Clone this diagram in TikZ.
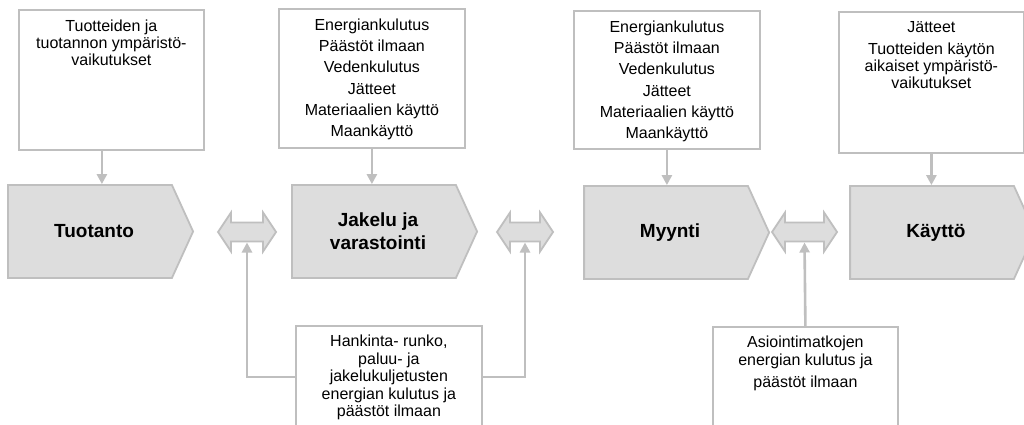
\documentclass[tikz,border=0pt]{standalone}
\usepackage{fontspec}
\setmainfont{Liberation Sans}
\usetikzlibrary{positioning,arrows.meta,shapes.symbols}
\definecolor{rim}{HTML}{BFBFBF}
\definecolor{stagegray}{HTML}{DDDDDD}
\begin{document}
\begin{tikzpicture}[x=1pt,y=-1pt,
  infobox/.style={draw=rim,line width=1.8pt,fill=white,anchor=north west,inner sep=0pt},
  infotext/.style={inner sep=0pt,align=center,font=\fontsize{16}{17}\selectfont},
  listtext/.style={inner sep=0pt,align=center,font=\fontsize{16}{21.3}\selectfont},
  stage/.style={signal,signal to=east,signal pointer angle=131,draw=rim,line width=1.8pt,fill=stagegray,minimum width=185pt,minimum height=93pt,inner sep=0pt,align=center,font=\fontsize{19}{22.7}\selectfont\bfseries},
  link/.style={draw=rim,line width=2.6pt,-{Triangle[length=10pt,width=10pt]}},
  swap/.style={draw=rim,line width=1.8pt,fill=stagegray,line join=miter}]
\useasboundingbox (0,0) rectangle (1024,425);
\clip (0,0) rectangle (1024,425);
\fill[white] (0,0) rectangle (1024,425);
\node[infobox,minimum width=185pt,minimum height=140pt] (b1) at (18,9) {};
\node[infotext,below=11pt of b1.north] (t1) {Tuotteiden ja\\tuotannon ympäristö-\\vaikutukset};
\node[infobox,minimum width=186pt,minimum height=139pt] (b2) at (278,8) {};
\node[listtext,below=10.5pt of b2.north] (t2) {Energiankulutus\\Päästöt ilmaan\\Vedenkulutus\\Jätteet\\Materiaalien käyttö\\Maankäyttö};
\node[infobox,minimum width=186pt,minimum height=138pt] (b3) at (573,10) {};
\node[listtext,below=10.5pt of b3.north] (t3) {Energiankulutus\\Päästöt ilmaan\\Vedenkulutus\\Jätteet\\Materiaalien käyttö\\Maankäyttö};
\node[infobox,minimum width=185pt,minimum height=141pt] (b4) at (838,11) {};
\node[infotext,below=10pt of b4.north] (t4) {Jätteet\\[5pt]Tuotteiden käytön\\aikaiset ympäristö-\\vaikutukset};
\node[stage] (tuo) at (90,231.5) {\hspace*{8pt}Tuotanto};
\node[stage] (jak) at (374,231.5) {\hspace*{8pt}Jakelu ja\\\hspace*{8pt}varastointi};
\node[stage] (myy) at (666,232.5) {\hspace*{8pt}Myynti};
\node[stage] (kay) at (932,232.5) {\hspace*{8pt}Käyttö};
\foreach \cx/\len/\nm in {247/58/da1,525/56/da2,804.5/65/da3} {
  \draw[swap] ({\cx-\len/2},232) -- ++(13,-19.5) -- ++(0,10) -- ({\cx+\len/2-13},222.5) -- ++(0,-10)
    -- ({\cx+\len/2},232) -- ++(-13,19.5) -- ++(0,-10) -- ({\cx-\len/2+13},241.5) -- ++(0,10) -- cycle;
  \coordinate (\nm) at (\cx,242.5);
}
\node[infobox,minimum width=186pt,minimum height=102pt] (hb1) at (295,325) {};
\node[infotext,font=\fontsize{16}{17.5}\selectfont,below=10pt of hb1.north] (ht1) {Hankinta- runko,\\paluu- ja\\jakelukuljetusten\\energian kulutus ja\\päästöt ilmaan};
\node[infobox,minimum width=185pt,minimum height=102pt] (hb2) at (712,326) {};
\node[infotext,font=\fontsize{16}{18}\selectfont,below=10pt of hb2.north] (ht2) {Asiointimatkojen\\energian kulutus ja\\[3.5pt]päästöt ilmaan};
\draw[link] ([xshift=-9.5pt]b1.south) -- ([xshift=-9.5pt]b1.south |- tuo.north);
\draw[link] (b2.south) -- (b2.south |- jak.north);
\draw[link] (b3.south) -- (b3.south |- myy.north);
\draw[link] (b4.south) -- (b4.south |- kay.north);
\draw[link] (hb1.west) -| (da1);
\draw[link] (hb1.east) -| (da2);
\draw[link] (hb2.north) -- (da3);
\end{tikzpicture}
\end{document}
